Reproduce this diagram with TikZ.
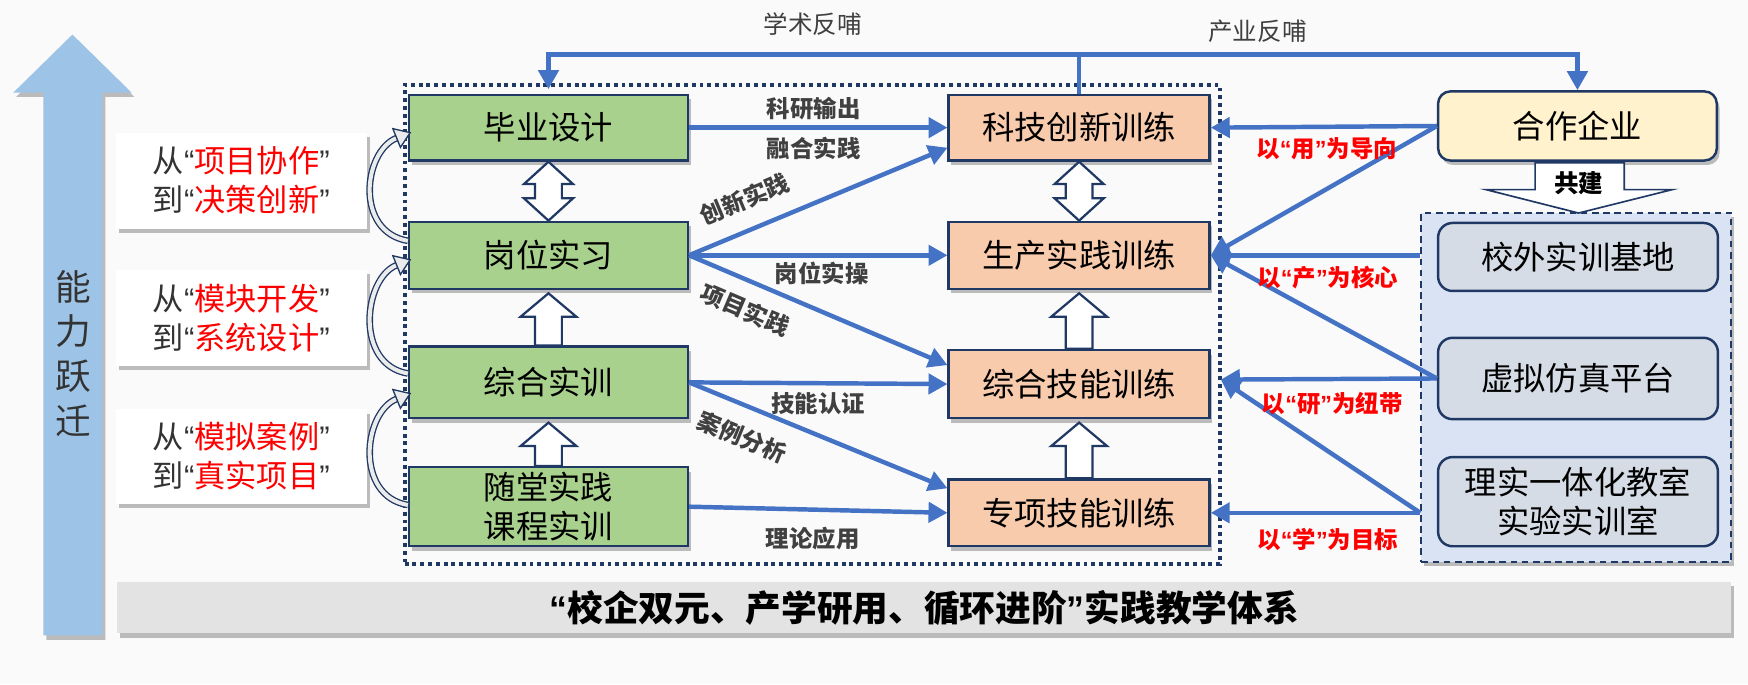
\documentclass[tikz,border=0pt]{standalone}
\usepackage{fontspec}
\setmainfont{Noto Sans CJK SC}
\newfontfamily\qfont{Liberation Sans}
\usetikzlibrary{arrows.meta,calc,shadows}
\definecolor{navy}{HTML}{1F3864}
\definecolor{lblue}{HTML}{4472C4}
\definecolor{cgreen}{HTML}{A9D18E}
\definecolor{corange}{HTML}{F8CBAD}
\definecolor{cyellow}{HTML}{FFF2CC}
\definecolor{cframe}{HTML}{DAE3F3}
\definecolor{cinner}{HTML}{D6DCE5}
\definecolor{carrow}{HTML}{9DC3E6}
\definecolor{cbar}{HTML}{E3E3E3}
\definecolor{cbg}{HTML}{FAFAFA}
\definecolor{labgray}{HTML}{404040}
\definecolor{txtgray}{HTML}{333333}
\newcommand\myoq{{\qfont “}}
\newcommand\mycq{{\qfont ”}}
\newcommand\myfs[2]{\fontsize{#1}{#2}\selectfont}
\newcommand\hollowup[2]{\draw[hollow] ($(#1.south)+(0,3)$) -- ++(25,21) -- ++(-13,0) -- ($(#2.north)+(12,0)$) -- ++(-24,0) -- ($(#1.south)+(-12,24)$) -- ++(-13,0) -- cycle;}
\newcommand\hollowboth[2]{\draw[hollow] (#1.south) -- ++(22,20) -- ++(-10,0) -- ($(#2.north)+(12,-20)$) -- ++(10,0) -- (#2.north) -- ++(-22,-20) -- ++(10,0) -- ($(#1.south)+(-12,20)$) -- ++(-10,0) -- cycle;}
\newcommand\curvarr[4]{%
  \coordinate (ct) at ($(#1.west)+(0,#2)$);
  \coordinate (ch) at ($(#3.west)+(2,#4)$);
  \coordinate (cb) at ($(ch)+(-12.1,4.8)$);
  \draw[navy, line width=1.2pt, double=white!92!black, double distance=3.6pt] (ct) .. controls +(-48,-8) and +(-30,12) .. (cb);
  \filldraw[navy, fill=white!92!black, line width=1.2pt, line join=miter] (ch) -- ($(cb)+(3.4,8.4)$) -- ($(cb)+(-3.4,-8.4)$) -- cycle;}
\tikzset{
  shad/.style={drop shadow={shadow xshift=2.5pt,shadow yshift=-4pt,opacity=0.25,fill=black}},
  boxbase/.style={draw=navy, line width=2.2pt, inner sep=0pt, text=black, font=\myfs{29}{35}, align=center},
  gbox/.style={boxbase, fill=cgreen, minimum width=250pt, shad},
  obox/.style={boxbase, fill=corange, minimum width=234pt, shad},
  ybox/.style={boxbase, fill=cyellow, minimum width=250pt, minimum height=62pt, rounded corners=11pt, shad},
  rbox/.style={boxbase, fill=cinner, minimum width=251pt, rounded corners=13pt},
  tbox/.style={fill=white, minimum width=225pt, inner sep=0pt, align=center, font=\myfs{28}{35}, text=txtgray, shad},
  bl/.style={draw=lblue, line width=4pt, -{Triangle[length=17pt,width=18pt]}},
  glab/.style={font=\bfseries\myfs{21}{21}, text=labgray, inner sep=0pt},
  tlab/.style={font=\myfs{22}{22}, text=labgray, inner sep=0pt},
  rlab/.style={font=\bfseries\myfs{21}{21}, text=red, inner sep=0pt},
  hollow/.style={draw=navy, fill=white, line width=2pt, line join=miter},
}
\begin{document}
\begin{tikzpicture}[x=1pt,y=-1pt]
\useasboundingbox (0,0) rectangle (1568,614);
\fill[cbg] (0,0) rectangle (1568,614);
% big arrow
\path[fill=carrow, shad] (65,31) -- (118,83) -- (92,83) -- (92,570) -- (39,570) -- (39,83) -- (12,83) -- cycle;
\node[align=center, font=\myfs{32}{40}, text=txtgray, inner sep=0pt] (nl) at (66,317) {能\\力\\跃\\迁};
% bottom bar
\node[fill=cbar, minimum width=1448pt, minimum height=46pt, inner sep=0pt, shad, font=\bfseries\myfs{32}{32}] (bar) at (829,545) {\myoq 校企双元、产学研用、循环进阶\mycq 实践教学体系};
% dotted frame
\node[draw=navy, line width=3.5pt, dash pattern=on 3.5pt off 3.5pt, minimum width=731pt, minimum height=430pt, inner sep=0pt] (fr) at (728.5,291) {};
% left text boxes
\node[tbox, minimum height=86pt] (t1) at (216.5,162) {从\myoq\textcolor{red}{项目协作}\mycq\\到\myoq\textcolor{red}{决策创新}\mycq};
\node[tbox, minimum height=86pt] (t2) at (216.5,285) {从\myoq\textcolor{red}{模块开发}\mycq\\到\myoq\textcolor{red}{系统设计}\mycq};
\node[tbox, minimum height=85pt] (t3) at (216.5,409.5) {从\myoq\textcolor{red}{模拟案例}\mycq\\到\myoq\textcolor{red}{真实项目}\mycq};
% green boxes
\node[gbox, minimum height=59pt] (g1) at (492,114.5) {毕业设计};
\node[gbox, minimum height=60pt] (g2) at (492,229) {岗位实习};
\node[gbox, minimum height=64pt] (g3) at (492,343) {综合实训};
\node[gbox, minimum height=71pt] (g4) at (492,454.5) {随堂实践\\课程实训};
% orange boxes
\node[obox, minimum height=59pt] (o1) at (968,114.5) {科技创新训练};
\node[obox, minimum height=60pt] (o2) at (968,229) {生产实践训练};
\node[obox, minimum height=61pt] (o3) at (968,344.5) {综合技能训练};
\node[obox, minimum height=60pt] (o4) at (968,460) {专项技能训练};
% hollow arrows
\hollowboth{g1}{g2}
\hollowup{g2}{g3}
\hollowup{g3}{g4}
\hollowboth{o1}{o2}
\hollowup{o2}{o3}
\hollowup{o3}{o4}
% curved arrows
\curvarr{g2}{-13}{g1}{4.5}
\curvarr{g3}{-8}{g2}{4}
\curvarr{g4}{-1.5}{g3}{10}
% right side
\node[ybox] (hz) at (1415,113) {合作企业};
\node[draw=navy, fill=cframe, line width=2pt, dash pattern=on 6pt off 4pt, minimum width=278pt, minimum height=313pt, inner sep=0pt, shad] (df) at (1414,347.5) {};
\node[rbox, minimum height=61pt] (r1) at (1415.5,230.5) {校外实训基地};
\node[rbox, minimum height=73pt] (r2) at (1415.5,339.5) {虚拟仿真平台};
\node[rbox, minimum height=80pt] (r3) at (1415.5,450) {理实一体化教室\\实验实训室};
\draw[hollow, line width=1.5pt] ($(hz.south)+(-38,1)$) -- ++(0,24) -- ++(-44,0) -- ($(hz.south)+(1,46)$) -- ($(hz.south)+(85,25)$) -- ++(-43,0) -- ($(hz.south)+(42,1)$) -- cycle;
\node[font=\bfseries\myfs{22}{22}, inner sep=0pt] (gj) at ($(hz.south)+(1,19)$) {共建};
% top feedback lines
\coordinate (ty) at (0,49);
\draw[bl] (o1.north) -- (o1.north |- ty) -- (g1.north |- ty) -- ($(g1.north)+(0,-4)$);
\draw[bl] (o1.north |- ty) -- (hz.north |- ty) -- (hz.north);
\node[tlab] (xs) at (729,22) {学术反哺};
\node[tlab] (cy) at (1128,28) {产业反哺};
% left connectors
\draw[bl] (g1.east) -- (o1.west);
\draw[bl] (g2.east) -- node[glab, sloped, pos=0.26, above=15pt] (lc) {创新实践} ($(o1.west)+(0,18)$);
\draw[bl] (g2.east) -- (o2.west);
\draw[bl] (g2.east) -- node[glab, sloped, pos=0.26, below=13pt] (lx) {项目实践} ($(o3.west)+(0,-17)$);
\draw[bl] (g3.east) -- (o3.west);
\draw[bl] (g3.east) -- node[glab, sloped, pos=0.25, below=15pt] (la) {案例分析} ($(o4.west)+(0,-22)$);
\draw[bl] (g4.east) -- (o4.west);
\node[glab] (l1) at (730,97) {科研输出};
\node[glab] (l2) at (730,133) {融合实践};
\node[glab] (l3) at (737,245) {岗位实操};
\node[glab] (l4) at (734,362) {技能认证};
\node[glab] (l5) at (729,483) {理论应用};
% right connectors
\draw[bl] (hz.west) -- (o1.east);
\draw[bl] (hz.west) -- (o2.east);
\draw[bl] (df.west |- o2.east) -- (o2.east);
\draw[bl] (r2.west) -- (o2.east);
\draw[bl] (r2.west) -- ($(o3.east)+(9,-4)$);
\draw[bl] (df.west |- o4.east) -- ($(o3.east)+(9,-4)$);
\draw[bl] (df.west |- o4.east) -- (o4.east);
\node[rlab] (ry) at (1190,133) {以\myoq 用\mycq 为导向};
\node[rlab] (rc) at (1191,249) {以\myoq 产\mycq 为核心};
\node[rlab] (rn) at (1195,362) {以\myoq 研\mycq 为纽带};
\node[rlab] (rx) at (1191,484) {以\myoq 学\mycq 为目标};
\end{tikzpicture}
\end{document}
